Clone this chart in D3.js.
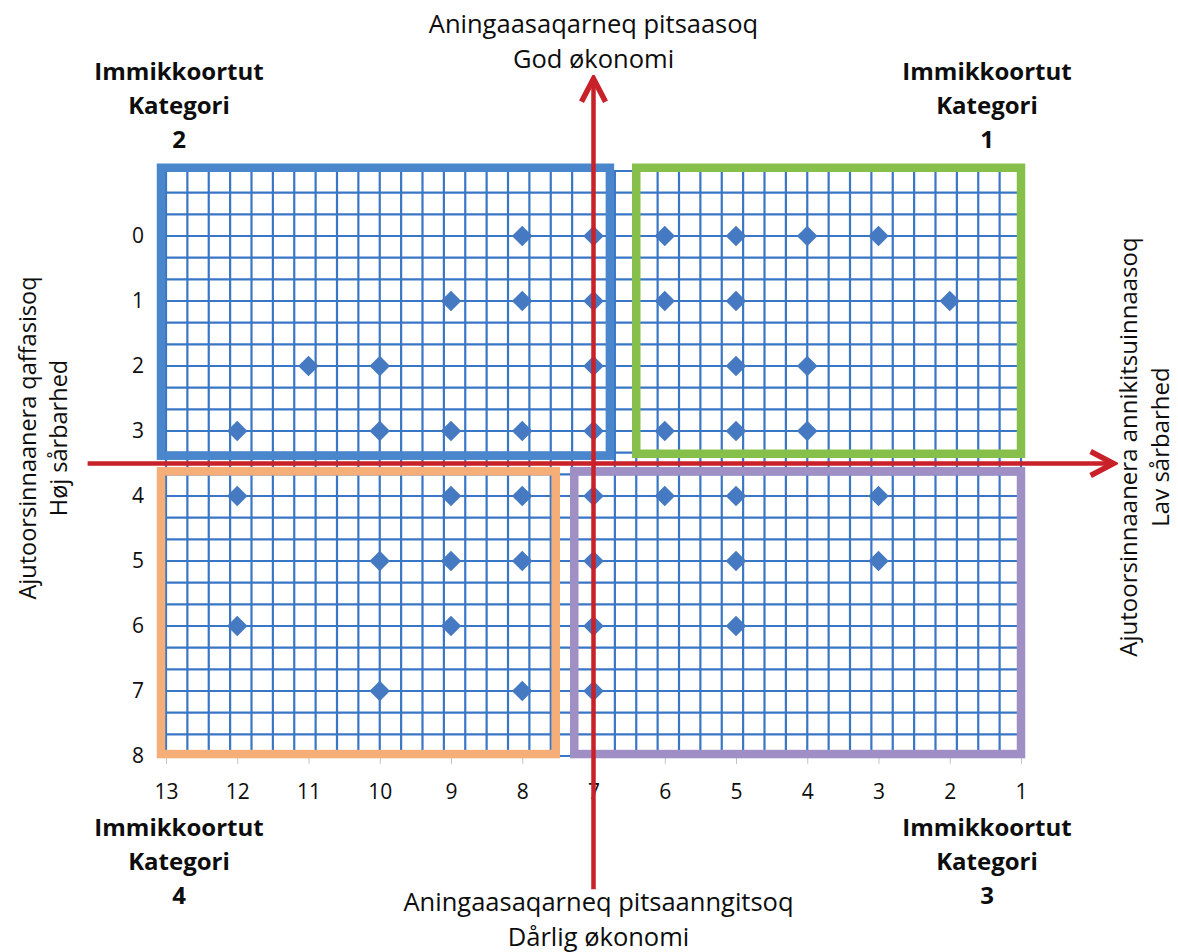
<!DOCTYPE html>
<html lang="kl">
<head>
  <meta charset="UTF-8">
  <title>Immikkoortut / Kategori</title>
  <script src="https://d3js.org/d3.v7.min.js"></script>
  <style>
    body { margin: 0; background: #fff; }
    text { font-family: "Open Sans", sans-serif; fill: #0d0d0d; }
    .cat { font-weight: bold; }
    .tick text { font-size: 21px; fill: #0d0d0d; }
  </style>
</head>
<body>
  <svg id="chart" width="1178" height="952"></svg>

  <script>
    // tick labels of both axes (x runs from 13 down to 1)
    const xTicks = [13, 12, 11, 10, 9, 8, 7, 6, 5, 4, 3, 2, 1];
    const yTicks = [0, 1, 2, 3, 4, 5, 6, 7, 8];

    // diamonds, read row by row
    const pointX = [8, 7, 6, 5, 4, 3,
                    9, 8, 7, 6, 5, 2,
                    11, 10, 7, 5, 4,
                    12, 10, 9, 8, 7, 6, 5, 4,
                    12, 9, 8, 7, 6, 5, 3,
                    10, 9, 8, 7, 5, 3,
                    12, 9, 7, 5,
                    10, 8, 7];
    const pointY = [0, 0, 0, 0, 0, 0,
                    1, 1, 1, 1, 1, 1,
                    2, 2, 2, 2, 2,
                    3, 3, 3, 3, 3, 3, 3, 3,
                    4, 4, 4, 4, 4, 4, 4,
                    5, 5, 5, 5, 5, 5,
                    6, 6, 6, 6,
                    7, 7, 7];

    // quadrant frames (category number and extent in data units)
    const categories = ["1", "2", "3", "4"];
    const boxLeft   = [6.4, 13.07, 7.27, 13.07];
    const boxRight  = [1.0, 6.77, 1.0, 7.53];
    const boxTop    = [-1.05, -1.05, 3.62, 3.62];
    const boxBottom = [3.35, 3.38, 7.97, 7.97];

    // where the two red arrows cross
    const crossX = 7;
    const crossY = 3.5;

    const topTitle = ["Aningaasaqarneq pitsaasoq", "God økonomi"];
    const bottomTitle = ["Aningaasaqarneq pitsaanngitsoq", "Dårlig økonomi"];
    const leftTitle = ["Ajutoorsinnaanera qaffasisoq", "Høj sårbarhed"];
    const rightTitle = ["Ajutoorsinnaanera annikitsuinnaasoq", "Lav sårbarhed"];

    const boxColors = { "1": "#86bf4a", "2": "#4a86cc", "3": "#a08fc4", "4": "#f6ae78" };
    const gridColor = "#3a76c6";
    const red = "#c9212a";

    const svg = d3.select("#chart");

    const x = d3.scaleLinear().domain([13, 1]).range([166, 1021]);
    const y = d3.scaleLinear().domain([-1, 8]).range([171, 756]);

    // grid: 0.3 units across, a third of a unit down
    const gridX = d3.range(0, 41).map(i => 13 - 0.3 * i);
    const gridY = d3.range(0, 28).map(i => -1 + i / 3);

    const grid = svg.append("g");
    grid.selectAll(".gx").data(gridX).join("line")
      .attr("x1", d => x(d)).attr("x2", d => x(d))
      .attr("y1", y(-1)).attr("y2", y(8))
      .attr("stroke", gridColor).attr("stroke-width", 2.2);
    grid.selectAll(".gy").data(gridY).join("line")
      .attr("x1", x(13)).attr("x2", x(1))
      .attr("y1", d => y(d)).attr("y2", d => y(d))
      .attr("stroke", gridColor).attr("stroke-width", 2.2);

    // axes
    const xAxis = svg.append("g")
      .attr("transform", `translate(0,${y(8)})`)
      .call(d3.axisBottom(x).tickValues(xTicks).tickSize(8).tickPadding(20));
    xAxis.select(".domain").remove();
    xAxis.selectAll(".tick line").attr("stroke", "#c4c4c4");

    const yAxis = svg.append("g")
      .attr("transform", `translate(${x(13)},0)`)
      .call(d3.axisLeft(y).tickValues(yTicks).tickSize(0).tickPadding(22));
    yAxis.select(".domain").remove();

    // quadrant frames
    svg.append("g").selectAll("rect").data(categories).join("rect")
      .attr("x", (d, i) => x(boxLeft[i]))
      .attr("y", (d, i) => y(boxTop[i]))
      .attr("width", (d, i) => x(boxRight[i]) - x(boxLeft[i]))
      .attr("height", (d, i) => y(boxBottom[i]) - y(boxTop[i]))
      .attr("fill", "none")
      .attr("stroke", d => boxColors[d])
      .attr("stroke-width", 8.5);

    // diamonds
    const diamond = d3.symbol().type(d3.symbolDiamond2).size(270);
    svg.append("g").selectAll("path").data(pointX).join("path")
      .attr("d", diamond)
      .attr("transform", (d, i) => `translate(${x(d)},${y(pointY[i])})`)
      .attr("fill", "#4579c2");

    // red arrows
    svg.append("defs").append("marker")
      .attr("id", "arrow")
      .attr("viewBox", "-28 -16 32 32")
      .attr("refX", 0).attr("refY", 0)
      .attr("markerWidth", 32).attr("markerHeight", 32)
      .attr("markerUnits", "userSpaceOnUse")
      .attr("orient", "auto")
      .append("path")
      .attr("d", "M-23,-12L0,0L-23,12")
      .attr("fill", "none")
      .attr("stroke", red)
      .attr("stroke-width", 5.5)
      .attr("stroke-linejoin", "miter");

    svg.append("line")
      .attr("x1", x(14.1)).attr("x2", x(-0.3))
      .attr("y1", y(crossY)).attr("y2", y(crossY))
      .attr("stroke", red).attr("stroke-width", 4.5)
      .attr("marker-end", "url(#arrow)");
    svg.append("line")
      .attr("x1", x(crossX)).attr("x2", x(crossX))
      .attr("y1", y(10.05)).attr("y2", y(-2.42))
      .attr("stroke", red).attr("stroke-width", 4.5)
      .attr("marker-end", "url(#arrow)");

    // titles
    const centreX = x(crossX);
    svg.selectAll(".tt").data(topTitle).join("text")
      .attr("x", centreX).attr("y", (d, i) => 33 + i * 35)
      .attr("text-anchor", "middle").attr("font-size", 25.5).text(d => d);
    svg.selectAll(".bt").data(bottomTitle).join("text")
      .attr("x", centreX + 5).attr("y", (d, i) => 911 + i * 35)
      .attr("text-anchor", "middle").attr("font-size", 25.5).text(d => d);

    svg.selectAll(".lt").data(leftTitle).join("text")
      .attr("transform", (d, i) => `translate(${36 + i * 31},438) rotate(-90)`)
      .attr("text-anchor", "middle").attr("font-size", 23.5).text(d => d);
    svg.selectAll(".rt").data(rightTitle).join("text")
      .attr("transform", (d, i) => `translate(${1137 + i * 32},447) rotate(-90)`)
      .attr("text-anchor", "middle").attr("font-size", 24).text(d => d);

    // category captions in the four corners
    const captionX = { "1": 987, "2": 179, "3": 987, "4": 179 };
    const captionY = { "1": 80, "2": 80, "3": 836, "4": 836 };
    categories.forEach(c => {
      const g = svg.append("text").attr("class", "cat")
        .attr("text-anchor", "middle").attr("font-size", 24);
      ["Immikkoortut", "Kategori", c].forEach((t, i) => {
        g.append("tspan").attr("x", captionX[c]).attr("y", captionY[c] + i * 34).text(t);
      });
    });
  </script>
</body>
</html>
